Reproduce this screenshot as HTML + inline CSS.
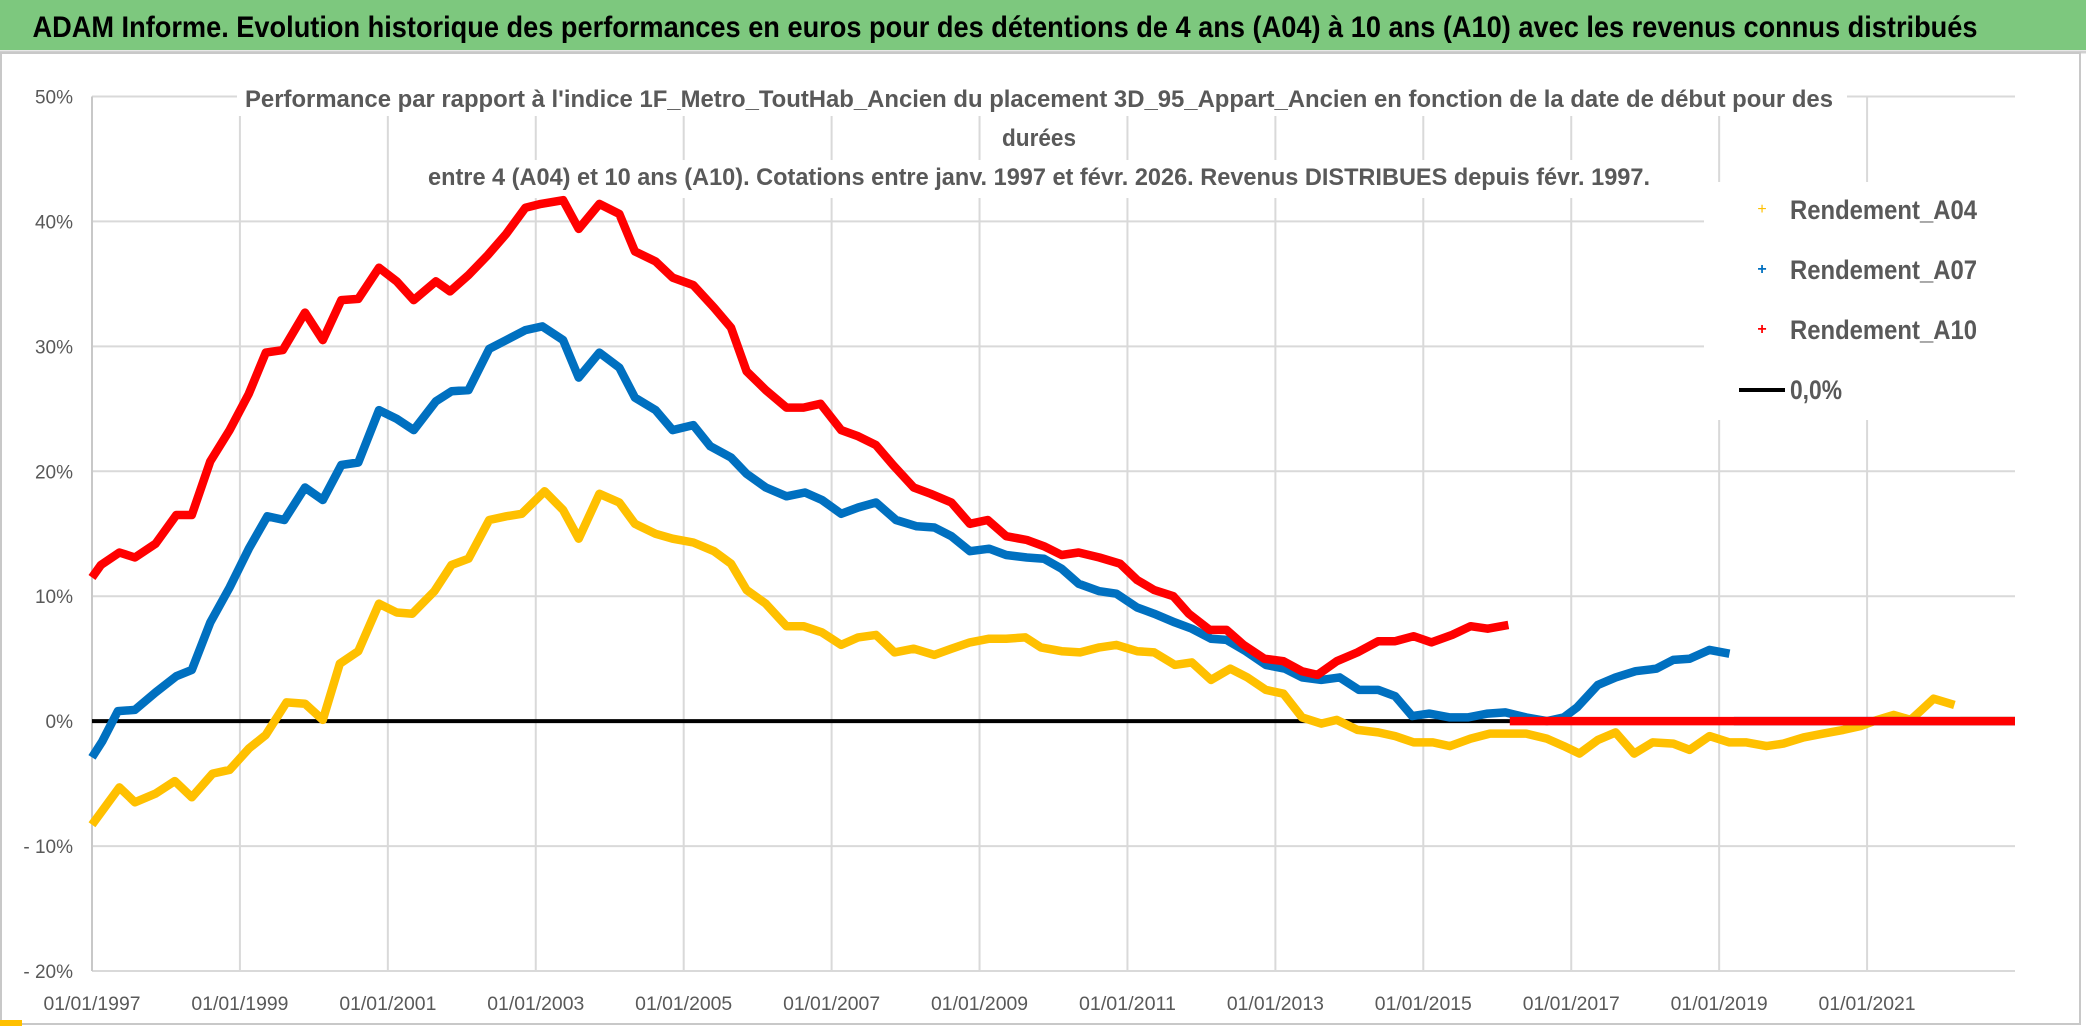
<!DOCTYPE html>
<html><head><meta charset="utf-8">
<style>
html,body{margin:0;padding:0;background:#fff;}
svg{display:block;}
text{font-family:"Liberation Sans",sans-serif;}
</style></head>
<body>
<svg id="chart" width="2086" height="1031" viewBox="0 0 2086 1031" xmlns="http://www.w3.org/2000/svg">
  <rect x="0" y="0" width="2086" height="1031" fill="#ffffff"/>
  <rect x="0" y="0" width="2086" height="50" fill="#7dc87e"/>
  <line x1="0" y1="52" x2="2086" y2="52" stroke="#d0d0d0" stroke-width="3"/>
  <text x="1005" y="37" text-anchor="middle" font-size="30" font-weight="bold" fill="#000" textLength="1945" lengthAdjust="spacingAndGlyphs">ADAM Informe. Evolution historique des performances en euros pour des détentions de 4 ans (A04) à 10 ans (A10) avec les revenus connus distribués</text>
  <rect x="1" y="53" width="2079" height="971" fill="none" stroke="#c8c8c8" stroke-width="2"/>
  <g id="grid"></g>
  <g id="ylabels"></g>
  <g id="xlabels"></g>
  <g id="titlebox">
    <rect x="237" y="80" width="1610" height="36" fill="#fff"/>
    <rect x="990" y="124" width="100" height="34" fill="#fff"/>
    <rect x="420" y="160" width="1240" height="38" fill="#fff"/>
    <text x="1039" y="107" text-anchor="middle" font-size="24" font-weight="bold" fill="#595959" textLength="1588" lengthAdjust="spacingAndGlyphs">Performance par rapport à l'indice 1F_Metro_ToutHab_Ancien  du placement 3D_95_Appart_Ancien en fonction de la date de début pour des</text>
    <text x="1039" y="146" text-anchor="middle" font-size="24" font-weight="bold" fill="#595959" textLength="74" lengthAdjust="spacingAndGlyphs">durées</text>
    <text x="1039" y="185" text-anchor="middle" font-size="24" font-weight="bold" fill="#595959" textLength="1222" lengthAdjust="spacingAndGlyphs">entre 4 (A04) et 10 ans (A10). Cotations entre janv. 1997 et févr. 2026. Revenus DISTRIBUES depuis févr. 1997.</text>
  </g>
  <line id="zeroline" stroke="#000" stroke-width="4"/>
  <g id="series"></g>
  <g id="legend">
    <rect x="1704" y="182" width="311" height="238" fill="#fff"/>
    <g>
      <text x="1762" y="210" text-anchor="middle" dominant-baseline="middle" font-size="16" fill="#ffc000">+</text>
      <text x="1790" y="219" font-size="27" font-weight="bold" fill="#595959" textLength="187" lengthAdjust="spacingAndGlyphs">Rendement_A04</text>
    </g>
    <g>
      <text x="1762" y="270" text-anchor="middle" dominant-baseline="middle" font-size="16" font-weight="bold" fill="#0070c0">+</text>
      <text x="1790" y="279" font-size="27" font-weight="bold" fill="#595959" textLength="187" lengthAdjust="spacingAndGlyphs">Rendement_A07</text>
    </g>
    <g>
      <text x="1762" y="330" text-anchor="middle" dominant-baseline="middle" font-size="16" font-weight="bold" fill="#ff0000">+</text>
      <text x="1790" y="339" font-size="27" font-weight="bold" fill="#595959" textLength="187" lengthAdjust="spacingAndGlyphs">Rendement_A10</text>
    </g>
    <g>
      <line x1="1739" y1="390" x2="1785" y2="390" stroke="#000" stroke-width="4"/>
      <text x="1790" y="399" font-size="27" font-weight="bold" fill="#595959" textLength="52" lengthAdjust="spacingAndGlyphs">0,0%</text>
    </g>
  </g>
  <rect x="0" y="1020" width="22" height="6" fill="#ffc000"/>
</svg>
<script>
const yTicks = [50, 40, 30, 20, 10, 0, -10, -20];
const yTickLabels = ["50%", "40%", "30%", "20%", "10%", "0%", "- 10%", "- 20%"];
const xTicks = [1997, 1999, 2001, 2003, 2005, 2007, 2009, 2011, 2013, 2015, 2017, 2019, 2021];
const xTickLabels = ["01/01/1997","01/01/1999","01/01/2001","01/01/2003","01/01/2005","01/01/2007","01/01/2009","01/01/2011","01/01/2013","01/01/2015","01/01/2017","01/01/2019","01/01/2021"];

const a04Dates = [1997.0,1997.37,1997.58,1997.86,1998.12,1998.35,1998.63,1998.86,1999.12,1999.35,1999.63,1999.88,2000.12,2000.35,2000.6,2000.88,2001.12,2001.33,2001.63,2001.86,2002.09,2002.37,2002.6,2002.81,2003.12,2003.37,2003.58,2003.86,
 2004.13,2004.34,2004.62,2004.85,2005.13,2005.41,2005.64,2005.85,2006.11,2006.39,2006.62,2006.87,2007.13,2007.36,2007.6,2007.85,2008.11,2008.39,2008.62,2008.87,2009.13,2009.36,2009.62,2009.83,2010.11,2010.36,2010.62,2010.85,
 2011.13,2011.36,2011.64,2011.87,2012.13,2012.39,2012.62,2012.87,2013.11,2013.36,2013.62,2013.83,2014.11,2014.39,2014.62,2014.87,2015.13,2015.36,2015.64,2015.9,2016.15,2016.39,2016.67,2016.9,2017.11,2017.36,2017.6,2017.85,
 2018.1,2018.38,2018.6,2018.87,2019.14,2019.37,2019.64,2019.87,2020.14,2020.41,2020.68,2020.91,2021.14,2021.36,2021.59,2021.72,2021.9,2022.18,2022.2,2022.26,2023.0];
const a04Values = [-8.3,-5.3,-6.5,-5.8,-4.8,-6.1,-4.2,-3.9,-2.2,-1.1,1.5,1.4,0.1,4.6,5.6,9.4,8.7,8.6,10.4,12.5,13.0,16.1,16.4,16.6,18.4,16.9,14.6,18.2,
 17.5,15.8,15.0,14.6,14.3,13.6,12.6,10.5,9.4,7.6,7.6,7.1,6.1,6.7,6.9,5.5,5.8,5.3,5.8,6.3,6.6,6.6,6.7,5.9,5.6,5.5,5.9,6.1,
 5.6,5.5,4.5,4.7,3.3,4.2,3.5,2.5,2.2,0.3,-0.2,0.1,-0.7,-0.9,-1.2,-1.7,-1.7,-2.0,-1.4,-1.0,-1.0,-1.0,-1.4,-2.0,-2.6,-1.5,-0.9,-2.6,
 -1.7,-1.8,-2.3,-1.2,-1.7,-1.7,-2.0,-1.8,-1.3,-1.0,-0.7,-0.4,0.1,0.5,0.1,0.8,1.8,1.3,null,0,0];

const a07Dates = [1997.0,1997.14,1997.35,1997.58,1997.86,1998.14,1998.35,1998.6,1998.86,1999.12,1999.37,1999.6,1999.88,2000.12,2000.37,2000.6,2000.88,2001.12,2001.35,2001.65,2001.86,2002.09,2002.37,2002.6,2002.86,2003.09,2003.37,2003.58,2003.86,
 2004.13,2004.34,2004.62,2004.85,2005.13,2005.36,2005.64,2005.85,2006.11,2006.39,2006.64,2006.87,2007.13,2007.36,2007.6,2007.87,2008.15,2008.39,2008.62,2008.87,2009.13,2009.36,2009.64,2009.87,2010.11,2010.34,2010.62,2010.85,
 2011.13,2011.36,2011.64,2011.87,2012.13,2012.34,2012.6,2012.87,2013.13,2013.36,2013.62,2013.87,2014.13,2014.39,2014.62,2014.85,2015.08,2015.36,2015.6,2015.87,2016.11,2016.39,2016.67,2016.9,2017.08,2017.36,2017.6,2017.87,
 2018.15,2018.38,2018.6,2018.87,2019.14,2019.17,2019.2,2023.0];
const a07Values = [-2.9,-1.6,0.8,0.9,2.3,3.6,4.1,7.9,10.7,13.8,16.4,16.1,18.7,17.7,20.5,20.7,24.9,24.2,23.3,25.6,26.4,26.5,29.8,30.5,31.3,31.6,30.5,27.5,29.5,
 28.3,25.9,24.9,23.3,23.7,22.0,21.1,19.8,18.7,18.0,18.3,17.7,16.6,17.1,17.5,16.1,15.6,15.5,14.8,13.6,13.8,13.3,13.1,13.0,12.2,11.0,10.4,10.2,
 9.1,8.6,7.9,7.4,6.6,6.5,5.6,4.5,4.2,3.5,3.3,3.5,2.5,2.5,2.0,0.4,0.6,0.3,0.3,0.6,0.7,0.3,0,0.3,1.1,2.9,3.5,4.0,
 4.2,4.9,5.0,5.7,5.4,null,0,0];

const a10Dates = [1997.0,1997.12,1997.37,1997.58,1997.86,1998.14,1998.35,1998.6,1998.86,1999.12,1999.35,1999.58,1999.88,2000.12,2000.37,2000.6,2000.88,2001.12,2001.35,2001.65,2001.84,2002.09,2002.35,2002.6,2002.86,2003.07,2003.37,2003.58,2003.86,
 2004.13,2004.34,2004.62,2004.85,2005.13,2005.41,2005.64,2005.85,2006.11,2006.39,2006.62,2006.85,2007.13,2007.36,2007.6,2007.83,2008.11,2008.34,2008.62,2008.87,2009.11,2009.36,2009.64,2009.87,2010.11,2010.34,2010.62,2010.9,
 2011.13,2011.36,2011.62,2011.83,2012.11,2012.34,2012.57,2012.85,2013.11,2013.36,2013.57,2013.83,2014.11,2014.39,2014.62,2014.87,2015.11,2015.39,2015.64,2015.87,2016.15,2016.16,2016.17,2023.0];
const a10Values = [11.5,12.5,13.5,13.1,14.2,16.5,16.5,20.8,23.3,26.2,29.5,29.7,32.7,30.5,33.7,33.8,36.3,35.2,33.7,35.2,34.4,35.7,37.3,39.0,41.1,41.4,41.7,39.4,41.4,
 40.6,37.6,36.8,35.5,34.9,33.1,31.5,28.0,26.5,25.1,25.1,25.4,23.3,22.8,22.1,20.5,18.7,18.2,17.5,15.8,16.1,14.8,14.5,14.0,13.3,13.5,13.1,12.6,
 11.3,10.5,10.0,8.6,7.3,7.3,6.1,5.0,4.8,4.0,3.7,4.8,5.5,6.4,6.4,6.8,6.3,6.9,7.6,7.4,7.7,null,0,0];

const NS = "http://www.w3.org/2000/svg";
const X0 = 92, X1 = 2015, YEAR0 = 1997, YEAR1 = 2023;
const Y_TOP = 96.5, Y_BOT = 971, P_TOP = 50, P_BOT = -20;
function xScale(yr){ return X0 + (yr - YEAR0) * (X1 - X0) / (YEAR1 - YEAR0); }
function yScale(p){ return Y_TOP + (P_TOP - p) * (Y_BOT - Y_TOP) / (P_TOP - P_BOT); }

const grid = document.getElementById('grid');
yTicks.forEach((t, i) => {
  const l = document.createElementNS(NS, 'line');
  l.setAttribute('x1', X0); l.setAttribute('x2', X1);
  l.setAttribute('y1', yScale(t)); l.setAttribute('y2', yScale(t));
  l.setAttribute('stroke', '#d9d9d9'); l.setAttribute('stroke-width', '2');
  
  
  grid.appendChild(l);
  const tx = document.createElementNS(NS, 'text');
  tx.setAttribute('x', 73); tx.setAttribute('y', yScale(t) + 7);
  tx.setAttribute('text-anchor', 'end'); tx.setAttribute('font-size', '19');
  tx.setAttribute('fill', '#595959');
  tx.textContent = yTickLabels[i];
  
  
  document.getElementById('ylabels').appendChild(tx);
});
xTicks.forEach((t, i) => {
  const l = document.createElementNS(NS, 'line');
  l.setAttribute('x1', xScale(t)); l.setAttribute('x2', xScale(t));
  l.setAttribute('y1', Y_TOP); l.setAttribute('y2', Y_BOT);
  l.setAttribute('stroke', i === 0 ? '#c8c8c8' : '#d9d9d9'); l.setAttribute('stroke-width', '2');
  
  
  grid.appendChild(l);
  const tx = document.createElementNS(NS, 'text');
  tx.setAttribute('x', xScale(t)); tx.setAttribute('y', 1010);
  tx.setAttribute('text-anchor', 'middle'); tx.setAttribute('font-size', '19');
  tx.setAttribute('fill', '#595959');
  tx.setAttribute('textLength', '97'); tx.setAttribute('lengthAdjust', 'spacingAndGlyphs');
  tx.textContent = xTickLabels[i];
  
  
  document.getElementById('xlabels').appendChild(tx);
});

const zl = document.getElementById('zeroline');
zl.setAttribute('x1', X0); zl.setAttribute('x2', X1);
zl.setAttribute('y1', yScale(0)); zl.setAttribute('y2', yScale(0));

function drawSeries(dates, values, color, name){
  const g = document.createElementNS(NS, 'g');
  
  
  let segs = [[]];
  for (let i = 0; i < dates.length; i++){
    if (values[i] === null){ segs.push([]); continue; }
    segs[segs.length - 1].push(xScale(dates[i]).toFixed(1) + ',' + yScale(values[i]).toFixed(1));
  }
  segs.forEach(s => {
    if (s.length < 2) return;
    const p = document.createElementNS(NS, 'polyline');
    p.setAttribute('points', s.join(' '));
    p.setAttribute('fill', 'none'); p.setAttribute('stroke', color);
    p.setAttribute('stroke-width', '8.5'); p.setAttribute('stroke-linejoin', 'round');
    
    
    g.appendChild(p);
  });
  document.getElementById('series').appendChild(g);
}
drawSeries(a04Dates, a04Values, '#ffc000', 'series-a04');
drawSeries(a07Dates, a07Values, '#0070c0', 'series-a07');
drawSeries(a10Dates, a10Values, '#ff0000', 'series-a10');
</script>
</body></html>
